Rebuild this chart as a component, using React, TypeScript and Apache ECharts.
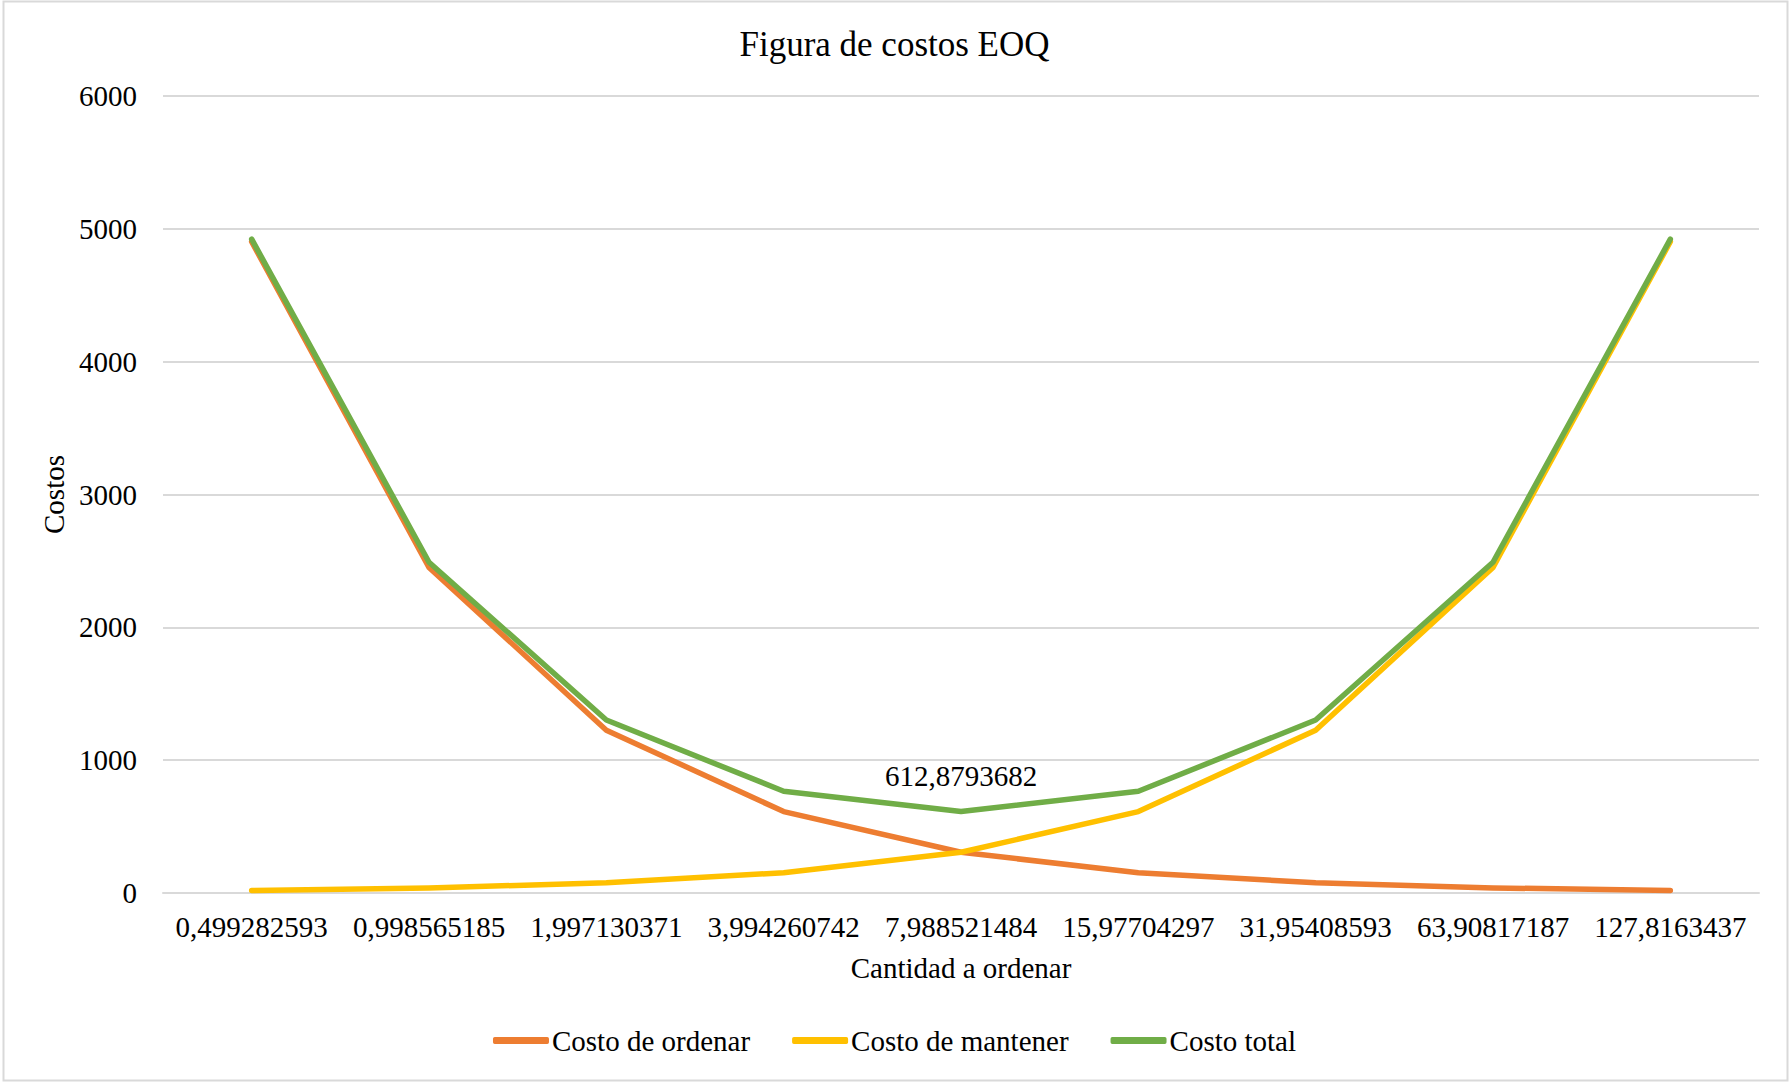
import React, { useEffect, useRef } from "react";
import * as echarts from "echarts";

const categories = [
  "0,499282593",
  "0,998565185",
  "1,997130371",
  "3,994260742",
  "7,988521484",
  "15,97704297",
  "31,95408593",
  "63,90817187",
  "127,8163437",
];
const costoOrdenar = [4903.0, 2451.5, 1225.8, 612.9, 306.4, 153.2, 76.6, 38.3, 19.2];
const costoMantener = [19.2, 38.3, 76.6, 153.2, 306.4, 612.9, 1225.8, 2451.5, 4903.0];
const costoTotal = [4922.2, 2489.8, 1302.4, 766.1, 612.8793682, 766.1, 1302.4, 2489.8, 4922.2];
const minLabelIndex = 4;
const minLabelText = "612,8793682";
const yTicks = { min: 0, max: 6000, interval: 1000 };

const FONT = "'Liberation Serif', 'Times New Roman', serif";

export default function App() {
  const ref = useRef<HTMLDivElement>(null);
  useEffect(() => {
    document.body.style.margin = "0";
    if (!ref.current) return;
    const chart = echarts.init(ref.current, undefined, { renderer: "svg" });
    const totalData = costoTotal.map((v, i) =>
      i === minLabelIndex
        ? {
            value: v,
            label: {
              show: true,
              position: "top",
              distance: 20,
              formatter: () => minLabelText,
              color: "#000",
              fontSize: 29,
              fontFamily: FONT,
            },
          }
        : v
    );
    chart.setOption({
      animation: false,
      backgroundColor: "#fff",
      textStyle: { fontFamily: FONT, color: "#000" },
      title: {
        text: "Figura de costos EOQ",
        left: "center",
        top: 22,
        textStyle: { fontFamily: FONT, fontSize: 35, fontWeight: "normal", color: "#000" },
      },
      graphic: [
        {
          type: "rect",
          shape: { x: 3.5, y: 1.5, width: 1784, height: 1079 },
          style: { fill: "none", stroke: "#D9D9D9", lineWidth: 2 },
          silent: true,
          z: -1,
        },
      ],
      legend: {
        left: "center",
        top: 1021,
        itemWidth: 56,
        itemHeight: 7,
        itemGap: 42,
        icon: "roundRect",
        textStyle: { fontFamily: FONT, fontSize: 29, color: "#000", padding: [0, 0, 0, -2] },
        data: ["Costo de ordenar", "Costo de mantener", "Costo total"],
      },
      grid: { left: 163, right: 30, top: 96, bottom: 190, containLabel: false },
      xAxis: {
        type: "category",
        data: categories,
        boundaryGap: true,
        name: "Cantidad a ordenar",
        nameLocation: "middle",
        nameGap: 60,
        nameTextStyle: { fontFamily: FONT, fontSize: 29, color: "#000" },
        axisLine: { lineStyle: { color: "#D9D9D9", width: 2 } },
        axisTick: { show: false },
        axisLabel: { interval: 0, margin: 19, fontFamily: FONT, fontSize: 29, color: "#000" },
      },
      yAxis: {
        type: "value",
        min: yTicks.min,
        max: yTicks.max,
        interval: yTicks.interval,
        name: "Costos",
        nameLocation: "middle",
        nameGap: 84,
        nameTextStyle: { fontFamily: FONT, fontSize: 29, color: "#000" },
        axisLine: { show: false },
        axisTick: { show: false },
        axisLabel: {
          margin: 26,
          fontFamily: FONT,
          fontSize: 29,
          color: "#000",
          formatter: (v: number) => String(v),
        },
        splitLine: { lineStyle: { color: "#D9D9D9", width: 2 } },
      },
      series: [
        {
          name: "Costo de ordenar",
          type: "line",
          data: costoOrdenar,
          symbol: "none",
          color: "#ED7D31",
          lineStyle: { width: 5.5, color: "#ED7D31", cap: "round", join: "round" },
        },
        {
          name: "Costo de mantener",
          type: "line",
          data: costoMantener,
          symbol: "none",
          color: "#FFC000",
          lineStyle: { width: 5.5, color: "#FFC000", cap: "round", join: "round" },
        },
        {
          name: "Costo total",
          type: "line",
          data: totalData,
          showSymbol: true,
          symbol: (_v: any, p: any) => (p.dataIndex === minLabelIndex ? "circle" : "none"),
          symbolSize: 3,
          color: "#70AD47",
          itemStyle: { color: "#70AD47" },
          lineStyle: { width: 5.5, color: "#70AD47", cap: "round", join: "round" },
        },
      ],
    });
    return () => chart.dispose();
  }, []);
  return <div ref={ref} style={{ width: 1789, height: 1083 }} />;
}
